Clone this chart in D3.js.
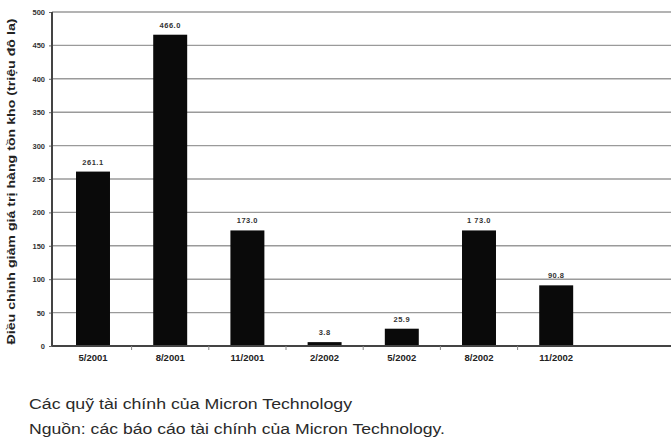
<!DOCTYPE html>
<html><head><meta charset="utf-8">
<script src="https://cdn.jsdelivr.net/npm/d3@7"></script>
<style>body{margin:0;background:#fff}svg{display:block}</style>
</head><body>
<svg id="c" width="671" height="439"></svg>
<script>
const categories = ["5/2001","8/2001","11/2001","2/2002","5/2002","8/2002","11/2002"];
const values = [261.1, 466.0, 173.0, 5.8, 25.9, 173.0, 90.8];
const valueLabels = ["261.1","466.0","173.0","3.8","25.9","1 73.0","90.8"];
const yTicks = [0,50,100,150,200,250,300,350,400,450,500];
const yTitle = "Điều chỉnh giảm giá trị hàng tồn kho (triệu đô la)";
const captions = ["Các quỹ tài chính của Micron Technology","Nguồn: các báo cáo tài chính của Micron Technology."];

(function(){
const svg = d3.select("#c");
const FF = "Liberation Sans, Arial, sans-serif";
const pL = 52, pR = 671, pT = 12, pB = 346;
const x = d3.scaleBand().domain(categories).range([54.4, 594.8]).paddingInner(0.56).paddingOuter(0.28);
const y = d3.scaleLinear().domain([0, 500]).range([pB, pT]);

// gridlines
svg.append("g").selectAll("line").data(yTicks.filter(d=>d>0)).join("line")
  .attr("x1", pL).attr("x2", pR).attr("y1", d=>y(d)).attr("y2", d=>y(d))
  .attr("stroke", "#9a9a9a").attr("stroke-width", 1.4);

// y axis
const ya = svg.append("g").attr("transform", `translate(${pL},0)`)
  .call(d3.axisLeft(y).tickValues(yTicks).tickSize(3).tickPadding(4).tickFormat(d3.format("d")));
ya.select(".domain").remove();
ya.selectAll("line").attr("stroke", "#666");
ya.selectAll("text").attr("font-family", FF)
  .attr("font-size", 7.5).attr("font-weight", "bold").attr("fill", "#333");
svg.append("line").attr("x1", pL).attr("x2", pL).attr("y1", pT).attr("y2", pB)
  .attr("stroke", "#444").attr("stroke-width", 2);

// bars
svg.append("g").selectAll("rect").data(values).join("rect")
  .attr("x", (d,i)=>x(categories[i])).attr("width", x.bandwidth())
  .attr("y", d=>y(d)).attr("height", d=>pB - y(d)).attr("fill", "#0a0a0a");

// value labels
svg.append("g").selectAll("text").data(values).join("text")
  .attr("x", (d,i)=>x(categories[i]) + x.bandwidth()/2).attr("y", d=>y(d) - 7)
  .attr("text-anchor", "middle").attr("font-family", FF)
  .attr("font-size", 7.5).attr("font-weight", "bold").attr("letter-spacing", 0.5).attr("fill", "#333")
  .text((d,i)=>valueLabels[i]);

// x axis
const xa = svg.append("g").attr("transform", `translate(0,${pB})`)
  .call(d3.axisBottom(x).tickSize(0).tickPadding(8));
xa.select(".domain").remove();
xa.selectAll("text").attr("font-family", FF)
  .attr("font-size", 9.5).attr("font-weight", "bold").attr("fill", "#222");
svg.append("line").attr("x1", pL).attr("x2", pR).attr("y1", pB).attr("y2", pB)
  .attr("stroke", "#444").attr("stroke-width", 2);
// band boundary ticks
const bounds = categories.slice(1).map(c => x(c) - x.step()*x.paddingInner()/2);
svg.append("g").selectAll("line").data(bounds).join("line")
  .attr("x1", d=>d).attr("x2", d=>d).attr("y1", pB).attr("y2", pB+4)
  .attr("stroke", "#888").attr("stroke-width", 1);

// y title
svg.append("text").attr("transform", `translate(15,${(18+345)/2}) rotate(-90)`)
  .attr("text-anchor", "middle").attr("font-family", FF)
  .attr("font-size", 11).attr("font-weight", "bold").attr("fill", "#222")
  .attr("textLength", 326).attr("lengthAdjust", "spacingAndGlyphs").text(yTitle);

// captions
const capLen = [323, 416];
svg.append("g").selectAll("text").data(captions).join("text")
  .attr("x", 29).attr("y", (d,i)=>409 + i*25)
  .attr("font-family", FF).attr("font-size", 14)
  .attr("textLength", (d,i)=>capLen[i]).attr("lengthAdjust", "spacingAndGlyphs")
  .attr("fill", "#2a2a2a").text(d=>d);
})();
</script>
</body></html>
